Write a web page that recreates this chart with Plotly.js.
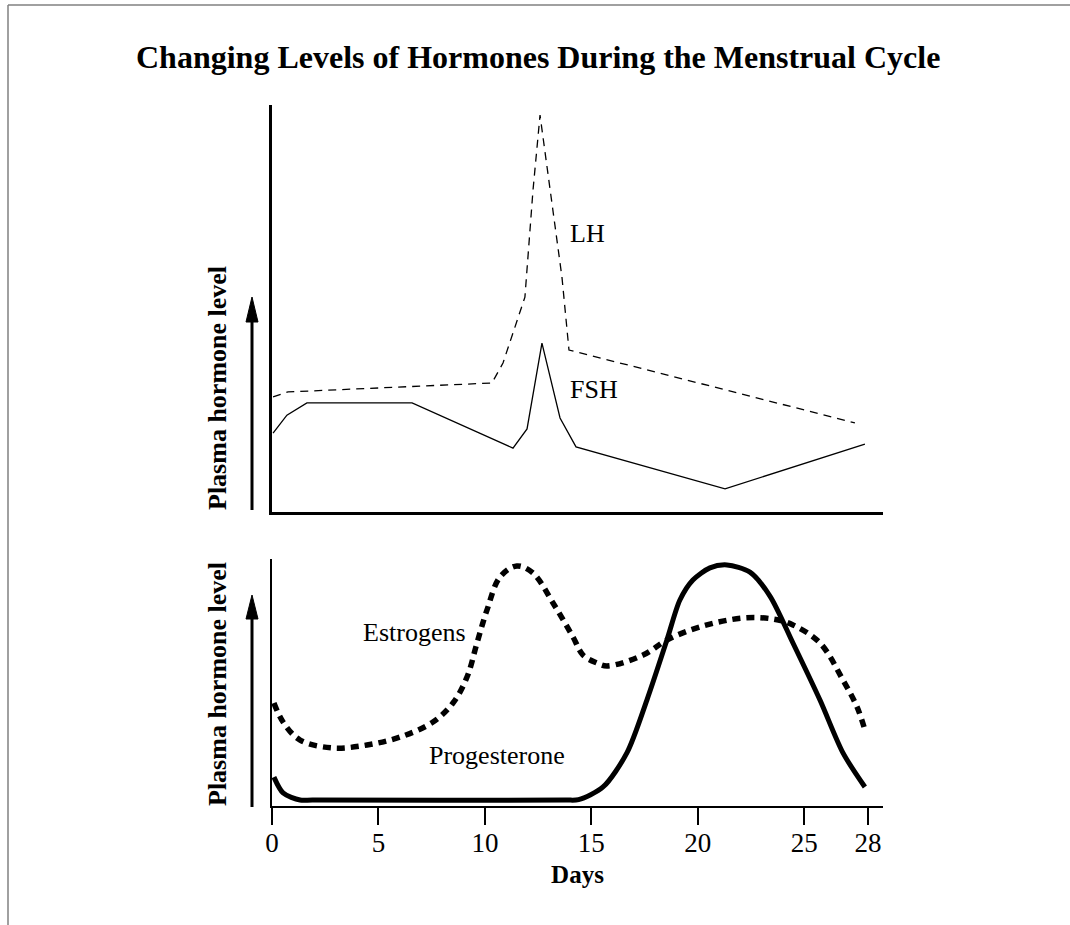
<!DOCTYPE html>
<html>
<head>
<meta charset="utf-8">
<script src="https://cdn.plot.ly/plotly-3.0.1.min.js"></script>
<style>
html,body{margin:0;padding:0;background:#ffffff;}
#chart{width:1070px;height:925px;}
</style>
</head>
<body>
<div id="chart"></div>
<script>
// ---- Data (relative plasma level, 0-100) ----
const lhDays  = [0.05, 0.75, 10.33, 10.85, 11.88, 12.26, 12.59, 13.62, 13.95, 27.38];
const lhLevel = [28.3, 29.5, 31.7, 36.6, 52.8, 79.1, 97.5, 57.7, 39.8, 21.9];

const fshDays  = [0.05, 0.70, 1.64, 6.58, 11.32, 11.98, 12.68, 13.53, 14.28, 21.28, 27.85];
const fshLevel = [19.4, 23.8, 26.8, 26.8, 15.7, 20.4, 41.5, 23.1, 16.0, 5.7, 16.7];

const estDays  = [0.09, 0.52, 1.32, 2.87, 4.46, 6.01, 7.56, 8.5, 9.16, 9.63, 10.1, 10.71, 11.5, 12.26, 13.2, 14.14, 14.61, 15.26, 15.73, 17.43, 18.55, 20.1, 22.12, 23.53, 24.47, 25.74, 26.82, 27.48, 27.85];
const estLevel = [41.7, 34.0, 26.7, 23.5, 24.7, 27.9, 34.0, 41.7, 52.2, 66.0, 79.4, 92.7, 97.2, 94.3, 82.2, 68.4, 61.1, 57.9, 56.7, 61.1, 67.2, 72.5, 76.1, 75.7, 73.3, 66.0, 51.0, 40.1, 30.8];

const proDays  = [0.09, 0.52, 1.32, 1.9, 13.8, 14.4, 15.55, 16.67, 17.61, 18.55, 19.16, 19.77, 20.57, 21.37, 22.45, 23.39, 24.47, 25.74, 26.82, 27.85];
const proLevel = [11.7, 5.3, 2.4, 2.4, 2.4, 2.6, 7.7, 21.5, 42.9, 67.2, 83.4, 91.5, 96.4, 97.6, 94.7, 85.0, 66.0, 42.9, 21.5, 7.7];

const tickDays   = [0, 5, 10, 15, 20, 25, 28];
const tickLabels = ['0', '5', '10', '15', '20', '25', '28'];

// ---- Layout geometry ----
const W = 1070, H = 925, ML = 272, MR = 187, MT = 105, MB = 119;
const PW = W - ML - MR, PH = H - MT - MB;
const px = x => (x - ML) / PW;
const py = y => (H - MB - y) / PH;

const FONT = 'Liberation Serif, Times New Roman, serif';

const traces = [
  {x: lhDays, y: lhLevel, xaxis: 'x', yaxis: 'y', mode: 'lines', name: 'LH',
   line: {color: '#000', width: 1.3, dash: '8px,6px'}},
  {x: fshDays, y: fshLevel, xaxis: 'x', yaxis: 'y', mode: 'lines', name: 'FSH',
   line: {color: '#000', width: 1.3}},
  {x: estDays, y: estLevel, xaxis: 'x2', yaxis: 'y2', mode: 'lines', name: 'Estrogens',
   line: {color: '#000', width: 5.5, dash: '8px,6px', shape: 'spline', smoothing: 1}},
  {x: proDays, y: proLevel, xaxis: 'x2', yaxis: 'y2', mode: 'lines', name: 'Progesterone',
   line: {color: '#000', width: 5, shape: 'spline', smoothing: 0.8}}
];

const axBase = {showgrid: false, zeroline: false, showline: true, linecolor: '#000', fixedrange: true};

const layout = {
  width: W, height: H,
  margin: {l: ML, r: MR, t: MT, b: MB, pad: 0},
  paper_bgcolor: '#fff', plot_bgcolor: '#fff',
  showlegend: false,
  font: {family: FONT, color: '#000', size: 24},
  title: {text: '<b>Changing Levels of Hormones During the Menstrual Cycle</b>',
          font: {family: FONT, size: 32, color: '#000'},
          x: 0.503, xref: 'container', xanchor: 'center',
          y: 1 - 57 / H, yref: 'container', yanchor: 'middle'},
  xaxis: Object.assign({}, axBase, {domain: [0, 1], range: [0, 28.7], anchor: 'y',
          linewidth: 3, ticks: '', showticklabels: false}),
  yaxis: Object.assign({}, axBase, {domain: [py(512), 1], range: [0, 100], anchor: 'x',
          linewidth: 3, ticks: '', showticklabels: false}),
  xaxis2: Object.assign({}, axBase, {domain: [0, 1], range: [0, 28.7], anchor: 'y2',
          linewidth: 2, ticks: 'outside', ticklen: 17, tickwidth: 2, tickcolor: '#000',
          tickvals: tickDays, ticktext: tickLabels, ticklabelstandoff: -5,
          tickfont: {family: FONT, size: 27, color: '#000'},
          title: {text: '<b>Days</b>', font: {family: FONT, size: 25, color: '#000'}, standoff: 8}}),
  yaxis2: Object.assign({}, axBase, {domain: [0, py(559)], range: [0, 100], anchor: 'x2',
          linewidth: 2, ticks: '', showticklabels: false}),
  annotations: [
    {text: '<b>Plasma hormone level</b>', xref: 'paper', yref: 'paper', x: px(217), y: py(388),
     textangle: -90, showarrow: false, xanchor: 'center', yanchor: 'middle',
     font: {family: FONT, size: 26, color: '#000'}},
    {text: '<b>Plasma hormone level</b>', xref: 'paper', yref: 'paper', x: px(217), y: py(684),
     textangle: -90, showarrow: false, xanchor: 'center', yanchor: 'middle',
     font: {family: FONT, size: 26, color: '#000'}},
    {text: 'LH', xref: 'x', yref: 'y', x: 13.9, y: 68.5, showarrow: false,
     xanchor: 'left', yanchor: 'middle', font: {family: FONT, size: 26, color: '#000'}},
    {text: 'FSH', xref: 'x', yref: 'y', x: 13.9, y: 30.0, showarrow: false,
     xanchor: 'left', yanchor: 'middle', font: {family: FONT, size: 26, color: '#000'}},
    {text: 'Estrogens', xref: 'x2', yref: 'y2', x: 4.2, y: 70.4, showarrow: false,
     xanchor: 'left', yanchor: 'middle', font: {family: FONT, size: 26, color: '#000'}},
    {text: 'Progesterone', xref: 'x2', yref: 'y2', x: 7.3, y: 20.6, showarrow: false,
     xanchor: 'left', yanchor: 'middle', font: {family: FONT, size: 26, color: '#000'}}
  ],
  shapes: [
    // frame (top and left edges)
    {type: 'line', xref: 'paper', yref: 'paper', x0: px(8), x1: px(1070), y0: py(5), y1: py(5),
     line: {color: '#808080', width: 1.5}},
    {type: 'line', xref: 'paper', yref: 'paper', x0: px(8), x1: px(8), y0: py(5), y1: py(925),
     line: {color: '#808080', width: 1.5}},
    // top arrow
    {type: 'line', xref: 'paper', yref: 'paper', x0: px(252), x1: px(252), y0: py(510), y1: py(315),
     line: {color: '#000', width: 3}},
    {type: 'path', xref: 'paper', yref: 'paper',
     path: `M ${px(246)} ${py(322)} L ${px(258)} ${py(322)} L ${px(252)} ${py(297)} Z`,
     fillcolor: '#000', line: {color: '#000', width: 1}},
    // bottom arrow
    {type: 'line', xref: 'paper', yref: 'paper', x0: px(252), x1: px(252), y0: py(807), y1: py(612),
     line: {color: '#000', width: 3}},
    {type: 'path', xref: 'paper', yref: 'paper',
     path: `M ${px(246)} ${py(619)} L ${px(258)} ${py(619)} L ${px(252)} ${py(595)} Z`,
     fillcolor: '#000', line: {color: '#000', width: 1}}
  ]
};

Plotly.newPlot('chart', traces, layout, {displayModeBar: false, staticPlot: true});
</script>
</body>
</html>
